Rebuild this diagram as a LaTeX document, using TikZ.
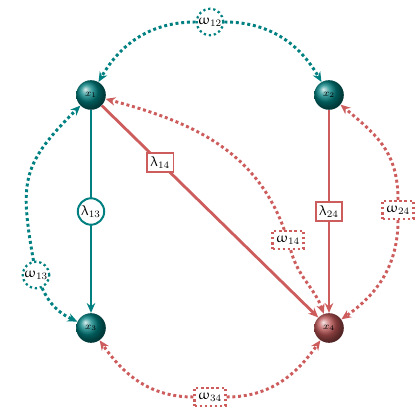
\documentclass[tikz,border=0pt]{standalone}
\usepackage{xcolor}
\usepackage{amsmath}
\usepackage{upgreek}
\usepackage{tikz}
\usetikzlibrary{arrows.meta}
\definecolor{redish}{RGB}{205,92,92}

\begin{document}
\begin{tikzpicture}[x=0.025cm, y=0.025cm,
            ball/.style={circle, minimum size=0.74cm, inner sep=0pt,
            font=\scriptsize, text=black},
            tealball/.style={ball, ball color=teal},
            redball/.style={ball, ball color=redish!92!black},
            lam/.style={line width=2pt, -{Stealth[length=7pt, width=6pt]}},
            om/.style={line width=2.1pt, dotted, -{Stealth[length=7pt, width=6pt]}},
            lcirc/.style={circle, draw=teal, line width=1.4pt, fill=white,
            inner sep=0pt, minimum size=0.66cm, font=\normalsize, text=black},
            lbox/.style={rectangle, draw=redish, line width=1.4pt, fill=white,
            inner sep=2.5pt, minimum height=0.45cm, font=\normalsize, text=black},
            wcirc/.style={circle, draw=teal, line width=1.6pt, dotted, fill=white,
            inner sep=0pt, minimum size=0.66cm, font=\normalsize, text=black},
            wbox/.style={rectangle, draw=redish, line width=1.6pt, dotted, fill=white,
            inner sep=2.5pt, minimum height=0.45cm, font=\normalsize, text=black},
        ]
            \useasboundingbox (0,0) rectangle (420,420);

            %% Variablen
            \node[tealball] (x1) at (91,325) {$x_1$};
            \node[tealball] (x2) at (329,325) {$x_2$};
            \node[tealball] (x3) at (91,92) {$x_3$};
            \node[redball]  (x4) at (329,92) {$x_4$};

            %% gerichtete Kanten
            \draw[lam, teal] (x1) -- node[lcirc] (l13) {$\uplambda_{13}$} (x3);
            \draw[lam, redish] (x2) -- node[lbox] (l24) {$\uplambda_{24}$} (x4);
            \draw[lam, redish] (x1) -- node[lbox, pos=0.27] (l14) {$\uplambda_{14}$} (x4);

            %% Kovarianzen
            \node[wcirc] (w12) at (210,398) {$\upomega_{12}$};
            \node[wcirc] (w13) at (36,145) {$\upomega_{13}$};
            \node[wbox]  (w24) at (398,210) {$\upomega_{24}$};
            \node[wbox]  (w14) at (288,180) {$\upomega_{14}$};
            \node[wbox]  (w34) at (210,23) {$\upomega_{34}$};

            \draw[om, teal] (w12) to[out=180, in=60] (x1);
            \draw[om, teal] (w12) to[out=0, in=120] (x2);
            \draw[om, teal] (w13) to[out=100, in=225, looseness=1.3] (x1);
            \draw[om, teal] (w13) to[out=-65, in=155] (x3);
            \draw[om, redish] (w24) to[out=90, in=-40, looseness=1.1] (x2);
            \draw[om, redish] (w24) to[out=-90, in=35] (x4);
            \draw[om, redish] (w14) to[out=110, in=-15] (x1);
            \draw[om, redish] (w14) to[out=-75, in=110] (x4);
            \draw[om, redish] (w34) to[out=180, in=-55] (x3);
            \draw[om, redish] (w34) to[out=0, in=-125] (x4);

        \end{tikzpicture}
\end{document}
